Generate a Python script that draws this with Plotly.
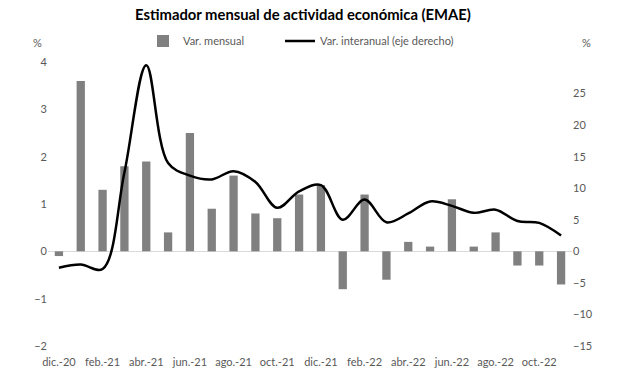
import plotly.graph_objects as go

months = ["dic.-20", "ene.-21", "feb.-21", "mar.-21", "abr.-21", "may.-21", "jun.-21", "jul.-21",
          "ago.-21", "sep.-21", "oct.-21", "nov.-21", "dic.-21", "ene.-22", "feb.-22", "mar.-22",
          "abr.-22", "may.-22", "jun.-22", "jul.-22", "ago.-22", "sep.-22", "oct.-22", "nov.-22"]
var_mensual = [-0.1, 3.6, 1.3, 1.8, 1.9, 0.4, 2.5, 0.9, 1.6, 0.8, 0.7, 1.2,
               1.4, -0.8, 1.2, -0.6, 0.2, 0.1, 1.1, 0.1, 0.4, -0.3, -0.3, -0.7]
var_interanual = [-2.6, -2.1, -2.8, 12.5, 29.5, 14.0, 12.0, 11.4, 12.7, 11.0, 6.9, 9.5,
                  10.5, 5.0, 8.2, 4.6, 6.0, 7.9, 7.2, 6.1, 6.6, 4.8, 4.5, 2.5]
tick_labels = months[::2]
left_ticks = [-2, -1, 0, 1, 2, 3, 4]
right_ticks = [-15, -10, -5, 0, 5, 10, 15, 20, 25]

font_family = "Lato, 'Open Sans', sans-serif"
tick_color = "#595959"

fig = go.Figure()
fig.add_trace(go.Bar(x=months, y=var_mensual, name="Var. mensual", legend="legend",
                     marker=dict(color="#808080", line=dict(width=0))))
fig.add_trace(go.Scatter(x=months, y=var_interanual, name="Var. interanual (eje derecho)",
                         mode="lines", yaxis="y2", legend="legend2",
                         line=dict(color="black", width=2.5, shape="spline", smoothing=1.0)))

legend_common = dict(orientation="h", yref="container", y=1 - 41 / 381, yanchor="middle",
                     xanchor="left", bgcolor="rgba(0,0,0,0)", itemwidth=30,
                     font=dict(family=font_family, size=11, color=tick_color))

fig.update_layout(
    width=617, height=381,
    margin=dict(l=48, r=45, t=62, b=35, autoexpand=False),
    paper_bgcolor="white", plot_bgcolor="white",
    font=dict(family=font_family, size=11, color=tick_color),
    title=dict(text="<b>Estimador mensual de actividad económica (EMAE)</b>",
               xref="container", x=303 / 617, xanchor="center",
               yref="container", y=1 - 15 / 381, yanchor="middle",
               font=dict(family=font_family, size=14.8, color="black")),
    bargap=0.62,
    showlegend=True,
    legend=dict(legend_common, x=(143 - 48) / 524),
    legend2=dict(legend_common, x=(280 - 48) / 524),
    xaxis=dict(type="category", categoryorder="array", categoryarray=months,
               tickmode="array", tickvals=tick_labels, ticktext=tick_labels,
               range=[-0.5, 23.5], showgrid=False, showline=False, ticks="",
               ticklabelstandoff=8,
               tickfont=dict(size=11, color=tick_color), tickangle=0),
    yaxis=dict(range=[-2, 4], tickvals=left_ticks, showgrid=False, zeroline=True,
               zerolinecolor="#d9d9d9", zerolinewidth=1, showline=False, ticks="",
               tickfont=dict(size=11, color=tick_color)),
    yaxis2=dict(range=[-15, 30], tickvals=right_ticks, overlaying="y", side="right",
                showgrid=False, zeroline=False, showline=False, ticks="",
                tickfont=dict(size=11, color=tick_color)),
    annotations=[
        dict(text="%", xref="paper", yref="paper", x=(37 - 48) / 524, y=1 + (62 - 43) / 284,
             showarrow=False, xanchor="center", yanchor="middle",
             font=dict(size=11, color=tick_color)),
        dict(text="%", xref="paper", yref="paper", x=(586 - 48) / 524, y=1 + (62 - 43) / 284,
             showarrow=False, xanchor="center", yanchor="middle",
             font=dict(size=11, color=tick_color)),
    ],
)

fig.write_html("out.html", config={"displayModeBar": False},
               post_script="document.body.style.margin='0';document.body.style.padding='0';")
